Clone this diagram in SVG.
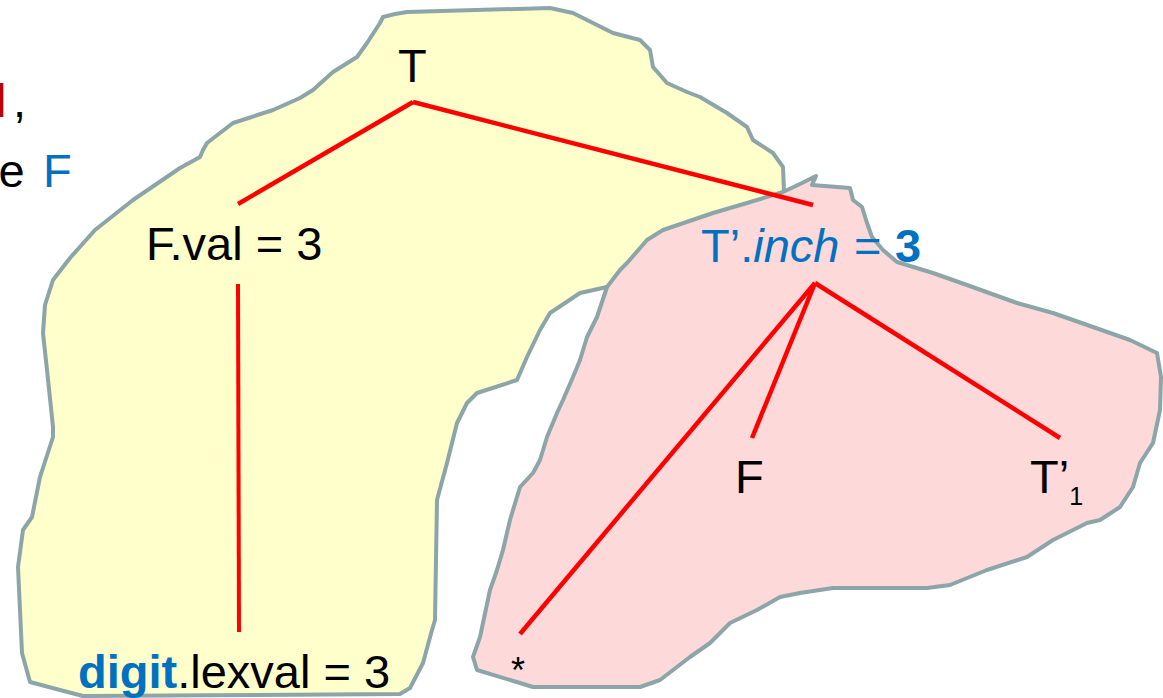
<svg xmlns="http://www.w3.org/2000/svg" width="1163" height="698" viewBox="0 0 1163 698">
<style>
text{font-family:"Liberation Sans",Arial,sans-serif;font-size:47px;fill:#000}
.blue{fill:#0070C0}
.red{fill:#C00000}
.blob{stroke:#8CA5A8;stroke-width:4;stroke-linejoin:round}
.edge{stroke:#FF0000;stroke-width:4.5;fill:none;stroke-linecap:butt}
</style>
<rect width="1163" height="698" fill="#fff"/>
<g id="yellow-region">
<path class="blob" fill="#FFFFCC" d="M380,23 L383,17 L395,14 L407,12 L550,8 L573,13 L595,24 L613,33 L640,40 L650,50 L653,67 L667,83 L687,92 L700,97 L727,113 L747,127 L753,140 L773,153 L783,167 L784,192 L800,215 L640,300 L607,287 L580,293 L550,313 L540,330 L527,357 L517,380 L477,393 L467,403 L457,423 L447,463 L437,500 L435,620 L432,630 L423,663 L410,688 L400,694 L83,696 L60,690 L30,682 L22,653 L18,567 L23,530 L32,517 L40,477 L53,437 L53,427 L47,370 L43,333 L45,305 L53,280 L70,258 L95,230 L133,200 L180,168 L200,157 L203,150 L207,143 L233,123 L273,110 L300,98 L313,90 L333,72 L357,57 L367,43 Z"/>
</g>
<g id="pink-region">
<path class="blob" fill="#FDD9D9" d="M783,192 L800,184 L816,176 L812,185 L850,188 L853,200 L862,207 L867,223 L872,237 L883,250 L897,262 L933,273 L967,285 L1017,303 L1053,313 L1093,327 L1130,340 L1157,353 L1161,377 L1160,410 L1153,443 L1140,463 L1133,487 L1120,507 L1100,520 L1087,523 L1053,540 L1027,557 L987,570 L950,585 L927,588 L833,588 L800,593 L780,597 L757,610 L730,623 L710,643 L690,657 L660,680 L640,687 L533,687 L520,683 L477,670 L473,657 L480,637 L490,590 L497,570 L503,550 L510,520 L520,487 L533,473 L540,460 L547,437 L557,413 L563,400 L573,377 L580,360 L587,337 L597,317 L607,287 L620,270 L627,263 L647,240 L663,230 L713,213 L747,203 Z"/>
</g>
<g id="connectors">
<line class="edge" x1="413" y1="102" x2="238" y2="204"/>
<line class="edge" x1="413" y1="102" x2="813" y2="205"/>
<line class="edge" x1="238" y1="284" x2="239" y2="632" style="stroke-width:4"/>
<line class="edge" x1="815" y1="283" x2="520" y2="634"/>
<line class="edge" x1="815" y1="283" x2="752" y2="438"/>
<line class="edge" x1="815" y1="283" x2="1060" y2="438"/>
</g>
<g id="side-text">
<text><tspan class="red" x="-4" y="117">l</tspan><tspan x="13" y="117">,</tspan></text>
<text><tspan x="-1.5" y="187">e</tspan><tspan class="blue" x="43" y="187">F</tspan></text>
</g>
<g id="node-T"><text x="398" y="82">T</text></g>
<g id="node-Fval"><text x="146" y="260">F.val = 3</text></g>
<g id="node-Tinch"><text class="blue" x="701" y="262">T’.<tspan font-style="italic">inch</tspan><tspan x="854">=</tspan><tspan x="895" font-weight="bold">3</tspan></text></g>
<g id="node-digit"><text x="78" y="688"><tspan class="blue" font-weight="bold">digit</tspan>.lexval = 3</text></g>
<g id="node-star"><text x="511" y="683" style="font-size:36px">*</text></g>
<g id="node-F"><text x="735" y="493">F</text></g>
<g id="node-T1"><text x="1030" y="493">T’<tspan style="font-size:25px" y="505">1</tspan></text></g>
</svg>
